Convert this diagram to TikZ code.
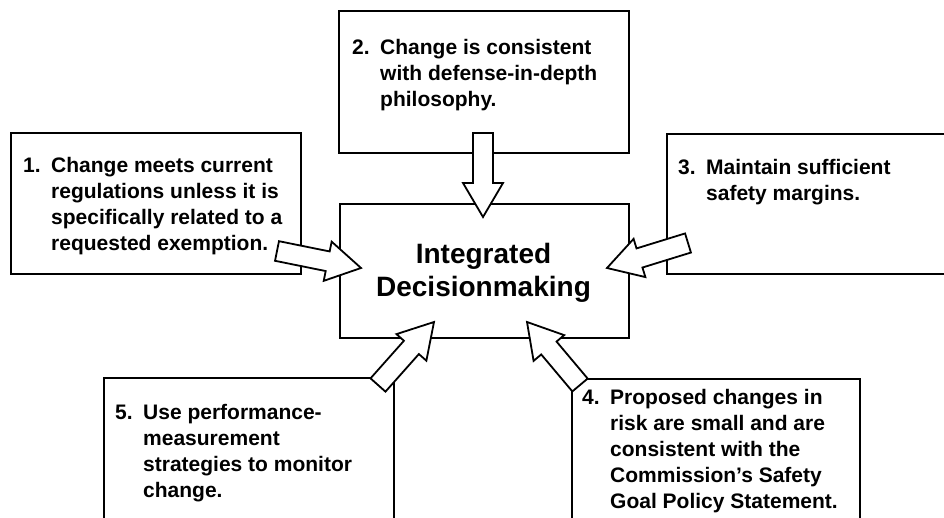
\documentclass[tikz,border=0pt]{standalone}
\usepackage{fontspec}
\setmainfont{Liberation Sans}
\usepackage{tikz}
\usetikzlibrary{positioning,calc}

\tikzset{
  box/.style={draw, line width=2pt, anchor=north west, inner sep=0pt},
  item/.style={anchor=north west, inner sep=0pt, font=\fontsize{21}{26}\selectfont\bfseries},
  barrow/.style={draw, line width=1.8pt, fill=white, line join=miter}
}
\newcommand{\blockarrow}[2]{%
  \path ($(#2)!34pt!(#1)$) coordinate (hb);
  \draw[barrow] ($(#1)!10pt!90:(#2)$) -- ($(hb)!10pt!90:(#2)$) -- ($(hb)!20pt!90:(#2)$) -- (#2)
    -- ($(hb)!20pt!-90:(#2)$) -- ($(hb)!10pt!-90:(#2)$) -- ($(#1)!10pt!-90:(#2)$) -- cycle;}

\begin{document}
\begin{tikzpicture}[x=1pt,y=-1pt]
\useasboundingbox (0,0) rectangle (944,518);
\clip (0,0) rectangle (944,518);

% boxes
\node[box, minimum width=290pt, minimum height=141pt] at (10,132) (b1) {};
\node[box, minimum width=290pt, minimum height=142pt] at (338,10) (b2) {};
\node[box, minimum width=289pt, minimum height=134pt] at (339,203) (dec) {};
\node[box, minimum width=300pt, minimum height=140pt] at (666,133) (b3) {};
\node[box, minimum width=288pt, minimum height=170pt] at (571,378) (b4) {};
\node[box, minimum width=290pt, minimum height=170pt] at (103,377) (b5) {};

% texts
\node[item] at (23,154.5) (t1) {\begin{tabular}{@{}l@{\hspace{10.5pt}}l@{}}
1. & Change meets current\\ & regulations unless it is\\ & specifically related to a\\ & requested exemption.
\end{tabular}};
\node[item] at (352,36.5) (t2) {\begin{tabular}{@{}l@{\hspace{10.5pt}}l@{}}
2. & Change is consistent\\ & with defense-in-depth\\ & philosophy.
\end{tabular}};
\node[item] at (678,156.5) (t3) {\begin{tabular}{@{}l@{\hspace{10.5pt}}l@{}}
3. & Maintain sufficient\\ & safety margins.
\end{tabular}};
\node[item] at (582,386.5) (t4) {\begin{tabular}{@{}l@{\hspace{10.5pt}}l@{}}
4. & Proposed changes in\\ & risk are small and are\\ & consistent with the\\ & Commission’s Safety\\ & Goal Policy Statement.
\end{tabular}};
\node[item] at (115,401.5) (t5) {\begin{tabular}{@{}l@{\hspace{10.5pt}}l@{}}
5. & Use performance-\\ & measurement\\ & strategies to monitor\\ & change.
\end{tabular}};
\node[anchor=north, inner sep=0pt, font=\fontsize{28}{33}\selectfont\bfseries] at (483.5,240) (tdec)
  {\begin{tabular}{@{}c@{}}Integrated\\ Decisionmaking\end{tabular}};

% arrows
\coordinate (a1s) at (277,251); \coordinate (a1e) at (361,268);
\coordinate (a2s) at (483,133); \coordinate (a2e) at (483,217);
\coordinate (a3s) at (688,243); \coordinate (a3e) at (607,268);
\coordinate (a4s) at (580,385); \coordinate (a4e) at (527,322);
\coordinate (a5s) at (378,385); \coordinate (a5e) at (434,322);
\blockarrow{a1s}{a1e}
\blockarrow{a2s}{a2e}
\blockarrow{a3s}{a3e}
\blockarrow{a4s}{a4e}
\blockarrow{a5s}{a5e}
\end{tikzpicture}
\end{document}
